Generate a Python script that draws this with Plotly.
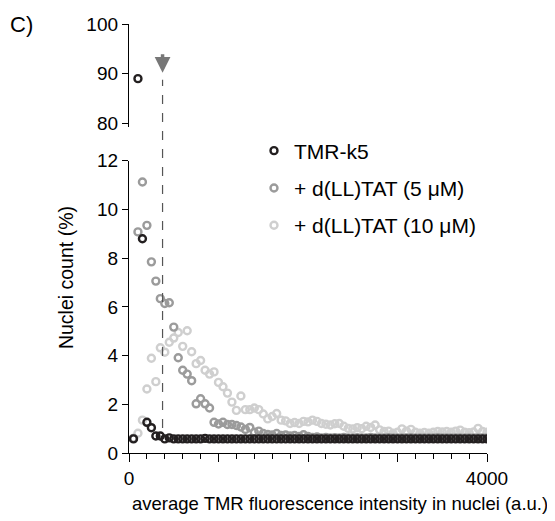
import plotly.graph_objects as go

# ---- data ----
intensity = [50, 100, 150, 200, 250, 300, 350, 400, 450, 500,
             550, 600, 650, 700, 750, 800, 850, 900, 950, 1000,
             1050, 1100, 1150, 1200, 1250, 1300, 1350, 1400, 1450, 1500,
             1550, 1600, 1650, 1700, 1750, 1800, 1850, 1900, 1950, 2000,
             2050, 2100, 2150, 2200, 2250, 2300, 2350, 2400, 2450, 2500,
             2550, 2600, 2650, 2700, 2750, 2800, 2850, 2900, 2950, 3000,
             3050, 3100, 3150, 3200, 3250, 3300, 3350, 3400, 3450, 3500,
             3550, 3600, 3650, 3700, 3750, 3800, 3850, 3900, 3950, 4000]

tmr_k5 = [0.58, 89.0, 8.80, 1.26, 1.04, 0.70, 0.70, 0.58, 0.62, 0.58,
          0.58, 0.58, 0.58, 0.58, 0.58, 0.58, 0.60, 0.58, 0.58, 0.58,
          0.58, 0.58, 0.58, 0.58, 0.58, 0.58, 0.58, 0.58, 0.58, 0.58,
          0.58, 0.58, 0.58, 0.58, 0.58, 0.58, 0.58, 0.58, 0.58, 0.58,
          0.58, 0.58, 0.58, 0.58, 0.58, 0.58, 0.58, 0.58, 0.58, 0.58,
          0.58, 0.58, 0.58, 0.58, 0.58, 0.58, 0.58, 0.58, 0.58, 0.58,
          0.58, 0.58, 0.58, 0.58, 0.58, 0.58, 0.58, 0.58, 0.58, 0.58,
          0.58, 0.58, 0.58, 0.58, 0.58, 0.58, 0.58, 0.58, 0.58, 0.58]

tat_5uM = [0.60, 9.08, 11.13, 9.35, 7.85, 7.06, 6.34, 6.14, 6.17, 5.17,
           3.91, 3.40, 3.24, 2.97, 2.02, 2.23, 2.02, 1.85, 1.26, 1.19,
           1.26, 1.17, 1.17, 1.13, 1.07, 0.97, 1.05, 0.85, 0.90, 0.80,
           0.76, 0.74, 0.80, 0.72, 0.74, 0.70, 0.72, 0.68, 0.75, 0.68,
           0.64, 0.66, 0.62, 0.64, 0.62, 0.63, 0.62, 0.64, 0.62, 0.62,
           0.63, 0.62, 0.62, 0.64, 0.62, 0.62, 0.62, 0.63, 0.62, 0.62,
           0.62, 0.62, 0.63, 0.62, 0.62, 0.62, 0.62, 0.62, 0.63, 0.62,
           0.62, 0.62, 0.62, 0.62, 0.62, 0.62, 0.62, 0.62, 0.62, 0.62]

tat_10uM = [0.60, 0.81, 1.35, 2.63, 3.89, 2.93, 4.32, 4.14, 4.55, 4.72,
            4.95, 4.38, 5.02, 4.16, 3.67, 3.80, 3.40, 3.24, 3.33, 2.90,
            2.72, 2.46, 2.09, 1.75, 2.34, 1.78, 1.78, 1.85, 1.78, 1.60,
            1.40, 1.50, 1.62, 1.35, 1.32, 1.21, 1.25, 1.21, 1.30, 1.28,
            1.35, 1.30, 1.21, 1.18, 1.15, 1.20, 1.21, 1.10, 1.01, 0.99,
            1.04, 1.00, 1.10, 1.05, 1.15, 0.95, 0.88, 0.90, 0.81, 0.85,
            0.99, 0.90, 0.97, 0.85, 0.81, 0.84, 0.81, 0.85, 0.88, 0.86,
            0.88, 0.85, 0.90, 0.94, 0.85, 0.83, 0.86, 1.01, 0.88, 0.85]

series_names = ["TMR-k5", "+ d(LL)TAT (5 \u03bcM)", "+ d(LL)TAT (10 \u03bcM)"]
x_tickvals = [0, 1000, 2000, 3000, 4000]
x_ticktext = ["0", "", "", "", "4000"]
y_low_ticks = [0, 2, 4, 6, 8, 10, 12]
y_high_ticks = [80, 90, 100]
threshold = 375

FONT = "Arial, Liberation Sans, sans-serif"
C_BLACK = "#231f20"
C_GRAY = "#9b9b9b"
C_LIGHT = "#cfcfcf"

W, H = 555, 521
L, R, T, B = 121, 76, 6, 76
PW, PH = W - L - R, H - T - B


def px_x(p):
    return (p - L) / PW


def px_y(p):
    return (H - B - p) / PH


def marker(color):
    return dict(symbol="circle-open", size=7, color=color,
                line=dict(width=2.4, color=color))


fig = go.Figure()
fig.add_trace(go.Scatter(x=intensity, y=tat_10uM, mode="markers", name=series_names[2],
                         marker=marker(C_LIGHT), xaxis="x", yaxis="y",
                         legendgroup="c", legendrank=3))
fig.add_trace(go.Scatter(x=intensity, y=tat_5uM, mode="markers", name=series_names[1],
                         marker=marker(C_GRAY), xaxis="x", yaxis="y",
                         legendgroup="b", legendrank=2))
fig.add_trace(go.Scatter(x=intensity, y=tmr_k5, mode="markers", name=series_names[0],
                         marker=marker(C_BLACK), xaxis="x", yaxis="y",
                         legendgroup="a", legendrank=1))
fig.add_trace(go.Scatter(x=intensity, y=tmr_k5, mode="markers", name=series_names[0],
                         marker=marker(C_BLACK), xaxis="x", yaxis="y2",
                         showlegend=False, legendgroup="a"))

axis_common = dict(showline=True, linecolor="black", linewidth=1.3, showgrid=False,
                   zeroline=False, ticks="outside", tickcolor="black", tickwidth=1.3,
                   tickfont=dict(family=FONT, size=19, color="black"))

y0_px = H - B
low_top_px = y0_px - 299
high_bottom_px = T + 20.8 * 5.085

fig.update_layout(
    width=W, height=H,
    margin=dict(l=L, r=R, t=T, b=B),
    paper_bgcolor="white", plot_bgcolor="white",
    font=dict(family=FONT, size=19, color="black"),
    xaxis=dict(domain=[0, 1], range=[0, 4000], anchor="y",
               tickvals=x_tickvals, ticktext=x_ticktext, ticklen=8,
               minor=dict(dtick=200, ticklen=5, ticks="outside", tickcolor="black",
                          tickwidth=1.3, showgrid=False),
               **axis_common),
    yaxis=dict(domain=[0, px_y(low_top_px)], range=[0, 12], anchor="x",
               tickvals=y_low_ticks, ticklen=6, **axis_common),
    yaxis2=dict(domain=[px_y(high_bottom_px), 1], range=[79.2, 100], anchor="x",
                tickvals=y_high_ticks, ticklen=6, **axis_common),
    showlegend=True,
    legend=dict(x=px_x(246), y=px_y(115), xanchor="left", yanchor="top",
                traceorder="grouped", tracegroupgap=7,
                font=dict(family=FONT, size=21, color="black"),
                bgcolor="rgba(0,0,0,0)", borderwidth=0),
)

# dashed threshold line
fig.add_shape(type="line", xref="x", yref="paper", x0=threshold, x1=threshold,
              y0=0.058, y1=px_y(63), line=dict(color="#555555", width=1.2, dash="dash"))
# arrow above the threshold line
fig.add_annotation(x=threshold, y=90.2, xref="x", yref="y2", text="",
                   showarrow=True, ax=0, ay=-20, arrowhead=2, arrowsize=0.9,
                   arrowwidth=3.5, arrowcolor="#777777")

# titles & panel letter
fig.add_annotation(text="average TMR fluorescence intensity in nuclei (a.u.)",
                   xref="paper", yref="paper", x=px_x(332), y=px_y(497),
                   xanchor="center", yanchor="middle", showarrow=False,
                   font=dict(family=FONT, size=18.5, color="black"))
fig.add_annotation(text="Nuclei count (%)", xref="paper", yref="paper",
                   x=px_x(58), y=px_y(266), textangle=-90,
                   xanchor="center", yanchor="middle", showarrow=False,
                   font=dict(family=FONT, size=19.5, color="black"))
fig.add_annotation(text="C)", xref="paper", yref="paper",
                   x=px_x(13), y=px_y(6), xanchor="center",
                   yanchor="middle", showarrow=False,
                   font=dict(family=FONT, size=22, color="black"))

fig.write_html("out.html")
